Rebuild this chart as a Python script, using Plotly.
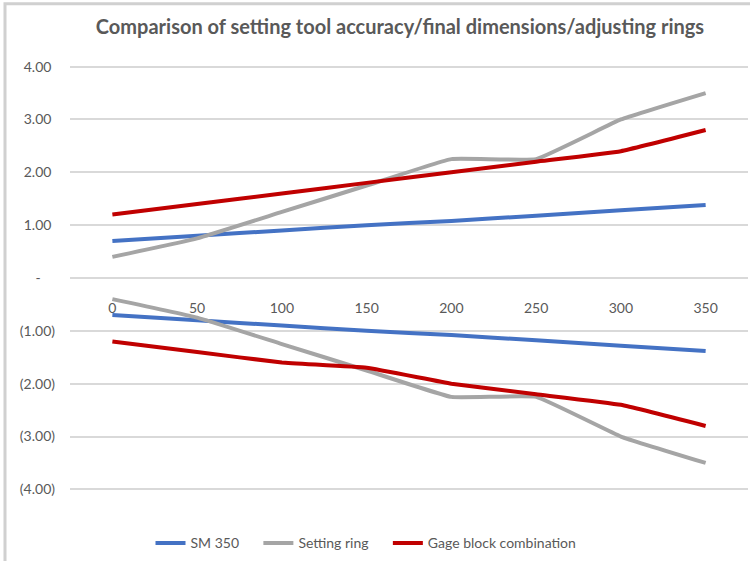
import plotly.graph_objects as go

# spindle length / measuring position
positions = [0, 50, 100, 150, 200, 250, 300, 350]

# upper (+) and lower (-) deviation bands
sm350_upper = [0.70, 0.80, 0.90, 1.00, 1.08, 1.18, 1.28, 1.38]
sm350_lower = [-0.70, -0.80, -0.90, -1.00, -1.08, -1.18, -1.28, -1.38]
ring_upper = [0.40, 0.75, 1.25, 1.75, 2.25, 2.25, 3.00, 3.50]
ring_lower = [-0.40, -0.75, -1.25, -1.75, -2.25, -2.25, -3.00, -3.50]
gage_upper = [1.20, 1.40, 1.60, 1.80, 2.00, 2.20, 2.40, 2.80]
gage_lower = [-1.20, -1.40, -1.60, -1.70, -2.00, -2.20, -2.40, -2.80]

y_ticks = [4, 3, 2, 1, 0, -1, -2, -3, -4]
y_labels = ["4.00\u00a0", "3.00\u00a0", "2.00\u00a0", "1.00\u00a0", "-\u00a0\u00a0\u00a0\u00a0",
            "(1.00)", "(2.00)", "(3.00)", "(4.00)"]
x_labels = [str(p) for p in positions]

FONT = "Lato, 'Open Sans', sans-serif"
TEXT = "#595959"
PAD = "\u00a0" * 4  # extra room between legend entries

series = [
    ("SM 350", sm350_upper, sm350_lower, "#4472C4"),
    ("Setting ring", ring_upper, ring_lower, "#A5A5A5"),
    ("Gage block combination", gage_upper, gage_lower, "#C00000"),
]

fig = go.Figure()
for k, (name, upper, lower, color) in enumerate(series):
    label = name + (PAD if k < len(series) - 1 else "")
    for i, vals in enumerate([upper, lower]):
        fig.add_trace(go.Scatter(
            x=positions,
            y=vals,
            mode="lines",
            name=label,
            legendgroup=name,
            showlegend=(i == 0),
            line=dict(color=color, width=4, shape="spline", smoothing=0.3),
            hoverinfo="skip",
        ))

fig.update_layout(
    width=750,
    height=561,
    margin=dict(l=70, r=2, t=64, b=65),
    paper_bgcolor="white",
    plot_bgcolor="white",
    font=dict(family=FONT, color=TEXT, size=14),
    title=dict(
        text="<b>Comparison of setting tool accuracy/final dimensions/adjusting rings</b>",
        x=400 / 750,
        xanchor="center",
        y=1 - 27 / 561,
        yanchor="middle",
        font=dict(family=FONT, size=20, color=TEXT),
    ),
    legend=dict(
        orientation="h",
        x=(366 - 70) / 678,
        xanchor="center",
        y=-0.12,
        yanchor="middle",
        font=dict(family=FONT, size=14, color=TEXT),
        itemwidth=30,
    ),
    xaxis=dict(
        range=[-25, 375],
        tickvals=positions,
        ticktext=x_labels,
        showgrid=False,
        zeroline=False,
        showline=False,
        anchor="free",
        position=0.5,
        ticks="",
        ticklabelstandoff=20,
        tickfont=dict(family=FONT, size=14, color=TEXT),
    ),
    yaxis=dict(
        range=[-4.05, 4.05],
        tickvals=y_ticks,
        ticktext=y_labels,
        showgrid=True,
        gridcolor="#D9D9D9",
        gridwidth=2,
        zeroline=False,
        showline=False,
        ticks="",
        ticklabelstandoff=14,
        tickfont=dict(family=FONT, size=14, color=TEXT),
    ),
    shapes=[
        dict(type="rect", xref="paper", yref="paper",
             x0=-65 / 678, x1=1.2, y0=-0.3, y1=1 + 60 / 426,
             line=dict(color="#D0D0D0", width=3), fillcolor="rgba(0,0,0,0)",
             layer="below"),
    ],
)

# drop the browser's default body margin so the figure sits at the page corner
fig.write_html(
    "out.html",
    config={"displayModeBar": False},
    post_script="document.body.style.margin='0';",
)
